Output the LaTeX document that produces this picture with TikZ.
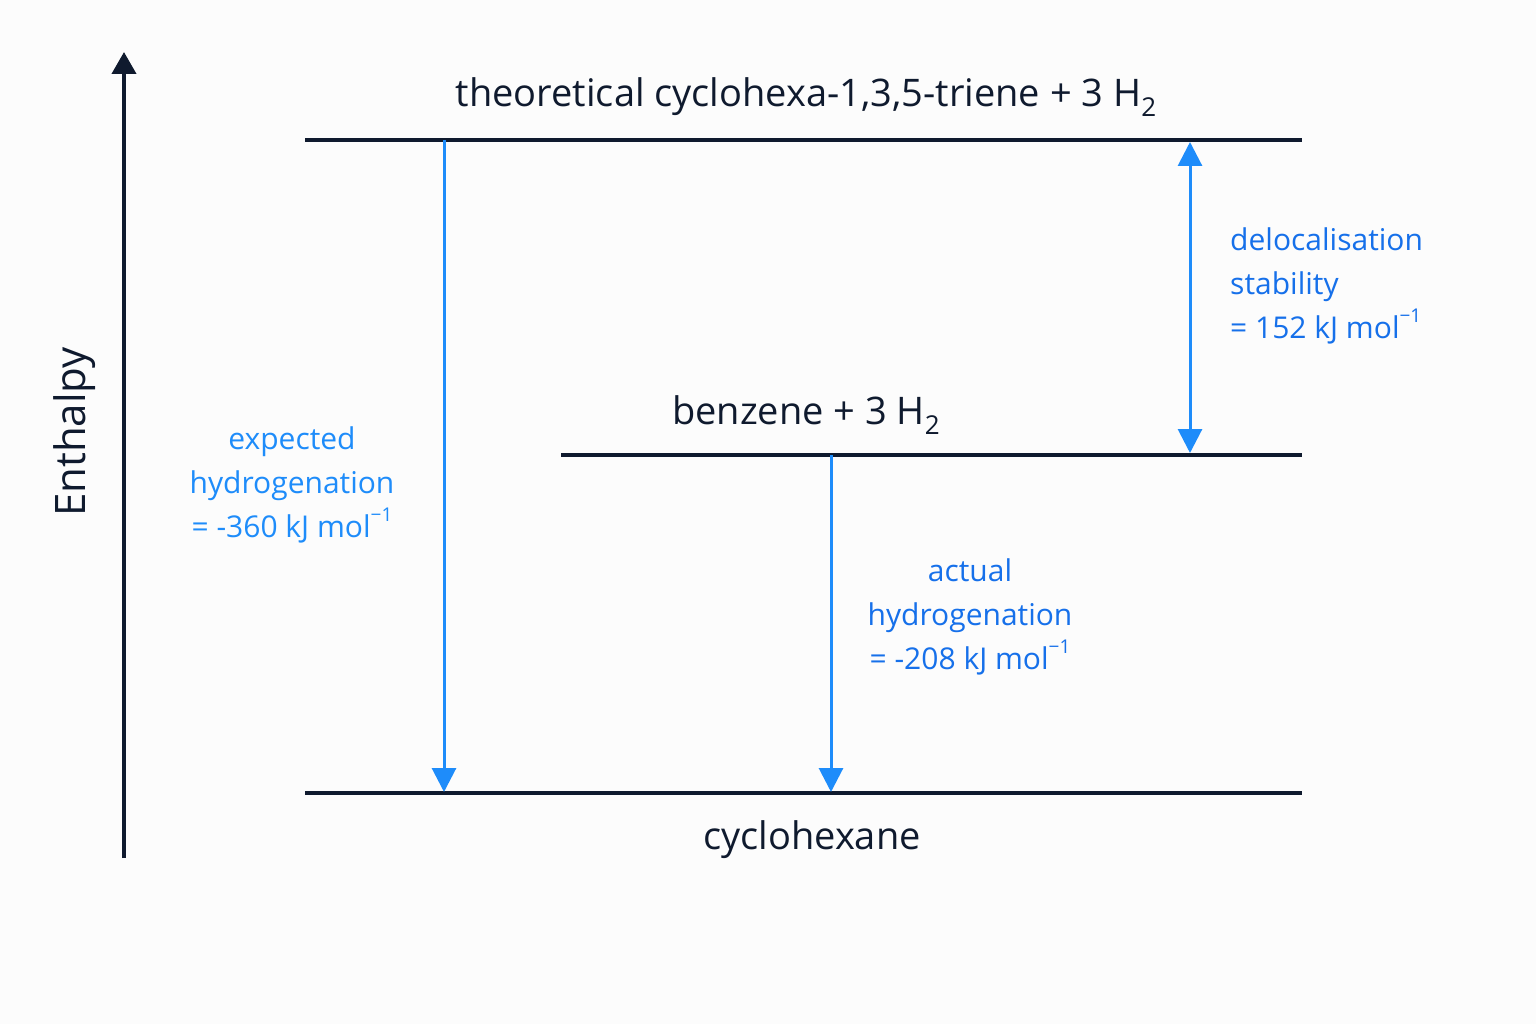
\documentclass[tikz,border=0pt]{standalone}
\usepackage{fontspec}
\setmainfont{Open Sans}
\usetikzlibrary{arrows.meta}
\definecolor{navy}{HTML}{0F1A2E}
\definecolor{arr}{HTML}{1E8CFA}
\definecolor{lab}{HTML}{1670EA}
\definecolor{lab2}{HTML}{1E8CFA}
\newcommand{\subtwo}{\raisebox{-0.25em}{\fontsize{26}{30}\selectfont 2}}
\newcommand{\supm}{\raisebox{0.55em}{\fontsize{19}{22}\selectfont −1}}
\begin{document}
\begin{tikzpicture}[x=1pt,y=-1pt,
  level/.style={line width=4pt,navy},
  tip/.style={-{Triangle[length=24pt,width=24pt]}},
  blue/.style={line width=3pt,arr},
  big/.style={font=\fontsize{38}{44}\selectfont,text=navy,inner sep=0},
  small/.style={font=\fontsize{30}{44}\selectfont,align=center,inner sep=0}]
\useasboundingbox[fill=white!98!gray] (0,0) rectangle (1536,1024);
\coordinate (ab) at (124,858); \coordinate (at) at (124,52);
\draw[line width=4pt,navy,-{Triangle[length=22pt,width=24pt]}] (ab)--(at);
\node[big,rotate=90,font=\fontsize{42}{48}\selectfont] (en) at (75,432) {Enthalpy};
\coordinate (t1) at (305,140); \coordinate (t2) at (1302,140);
\coordinate (b1) at (561,455); \coordinate (b2) at (1302,455);
\coordinate (c1) at (305,793); \coordinate (c2) at (1302,793);
\draw[level] (t1)--(t2); \draw[level] (b1)--(b2); \draw[level] (c1)--(c2);
\node[big] (tl) at (806,97) {theoretical cyclohexa-1,3,5-triene + 3 H\subtwo};
\node[big] (bl) at (806,415) {benzene + 3 H\subtwo};
\node[big] (cl) at (812,840) {cyclohexane};
\coordinate (e1) at (444,140); \coordinate (e2) at (444,792);
\coordinate (a1) at (831,455); \coordinate (a2) at (831,792);
\coordinate (d1) at (1190,142); \coordinate (d2) at (1190,453);
\draw[blue,tip] (e1)--(e2);
\draw[blue,tip] (a1)--(a2);
\draw[blue,{Triangle[length=24pt,width=24pt]}-{Triangle[length=24pt,width=24pt]}] (d1)--(d2);
\node[small,text=lab2] (el) at (292,485) {expected\\hydrogenation\\= -360 kJ mol\supm};
\node[small,text=lab] (al) at (970,617) {actual\\hydrogenation\\= -208 kJ mol\supm};
\node[small,text=lab,align=left,anchor=west] (dl) at (1230,286) {delocalisation\\stability\\= 152 kJ mol\supm};
\end{tikzpicture}
\end{document}
